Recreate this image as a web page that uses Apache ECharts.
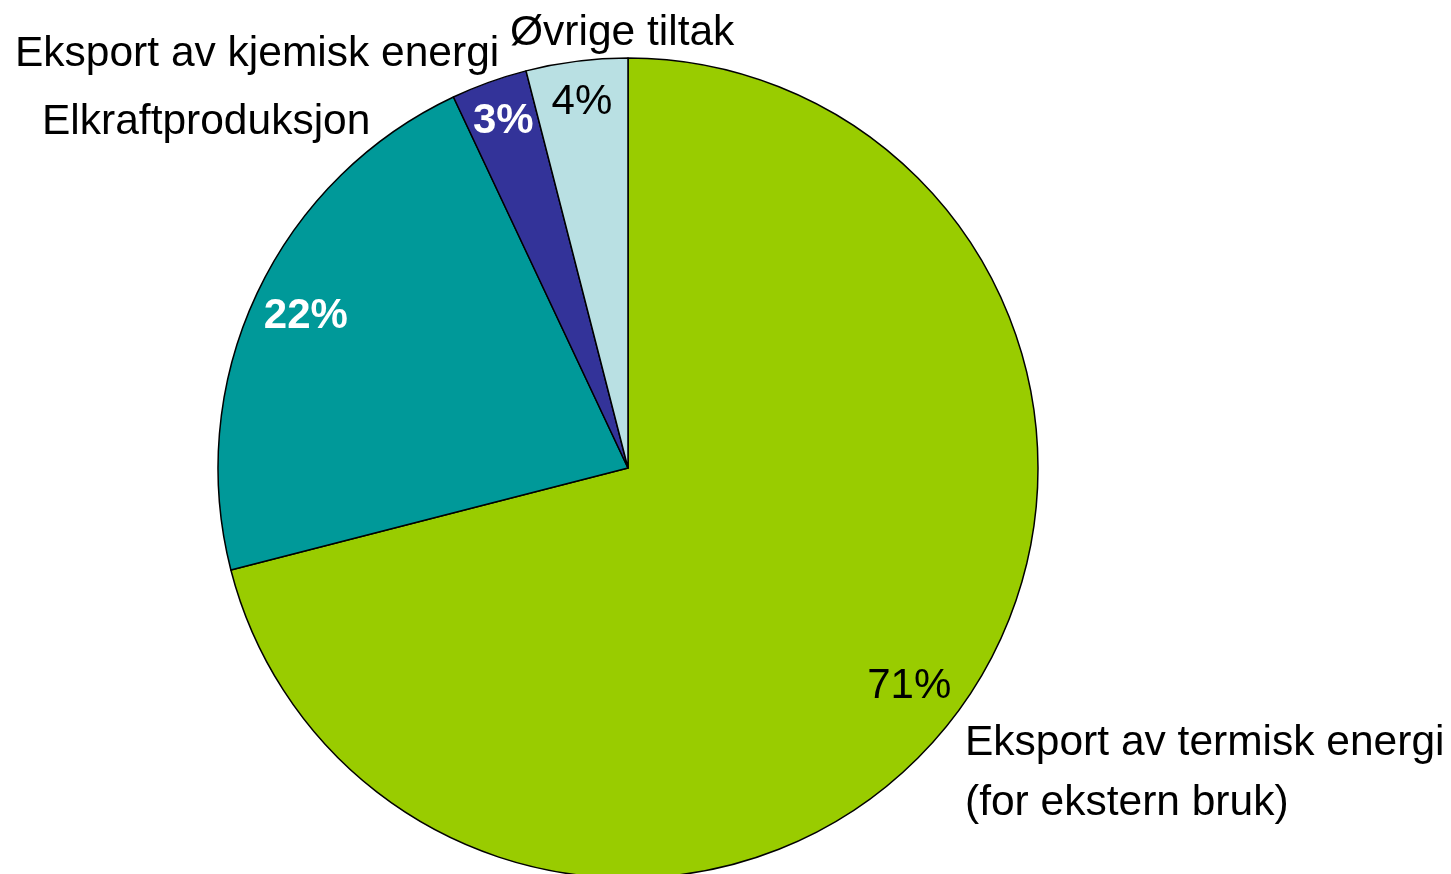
<!DOCTYPE html>
<html>
<head>
<meta charset="utf-8">
<script src="https://cdn.jsdelivr.net/npm/echarts@6/dist/echarts.min.js"></script>
<style>
  html, body { margin: 0; padding: 0; background: #ffffff; }
  #chart { width: 1451px; height: 874px; }
</style>
</head>
<body>
<div id="chart"></div>
<script>
// Share of energy use by measure (percent)
const categories = [
  'Eksport av termisk energi (for ekstern bruk)',
  'Elkraftproduksjon',
  'Eksport av kjemisk energi',
  'Øvrige tiltak'
];
const values = [71, 22, 3, 4];
const sliceColors = ['#99CC00', '#009999', '#333399', '#B9E0E3'];
const valueLabelColors = ['#000000', '#ffffff', '#ffffff', '#000000'];
const valueLabelWeights = ['normal', 'bold', 'bold', 'normal'];
// large slices carry their label a bit further in than the thin ones
const labelRing = ['large', 'large', 'thin', 'thin'];

const FONT = '"Liberation Sans", Arial, sans-serif';
const CENTER = [628, 468];
const R = 410;

const pieData = categories.map((name, i) => ({
  name,
  value: values[i],
  itemStyle: { color: sliceColors[i] }
}));

// transparent rings whose mid radius carries the percentage labels
function labelData(ring) {
  return categories.map((name, i) => ({
    name,
    value: values[i],
    label: {
      show: labelRing[i] === ring,
      color: valueLabelColors[i],
      fontWeight: valueLabelWeights[i]
    }
  }));
}

function labelSeries(ring, inner) {
  return {
    type: 'pie',
    center: CENTER,
    radius: [inner, R],
    startAngle: 90,
    clockwise: true,
    data: labelData(ring),
    itemStyle: { color: 'rgba(0,0,0,0)', borderWidth: 0 },
    label: {
      position: 'inside',
      formatter: '{d}%',
      fontSize: 42,
      fontFamily: FONT
    },
    labelLine: { show: false },
    emphasis: { disabled: true },
    silent: true
  };
}

function nameText(text, x, y) {
  return {
    type: 'text',
    left: x,
    top: y,
    style: {
      text,
      font: '42.5px ' + FONT,
      fill: '#000000',
      lineHeight: 60
    }
  };
}

const chart = echarts.init(document.getElementById('chart'), null, { renderer: 'canvas' });
chart.setOption({
  backgroundColor: '#ffffff',
  animation: false,
  series: [
    {
      type: 'pie',
      center: CENTER,
      radius: [0, R],
      startAngle: 90,
      clockwise: true,
      data: pieData,
      label: { show: false },
      labelLine: { show: false },
      itemStyle: { borderColor: '#000000', borderWidth: 1.5 },
      emphasis: { disabled: true },
      silent: true
    },
    labelSeries('large', 296),
    labelSeries('thin', 320)
  ],
  graphic: [
    nameText('Øvrige tiltak', 510, 3),
    nameText('Eksport av kjemisk energi', 15, 24),
    nameText('Elkraftproduksjon', 42, 92),
    nameText('Eksport av termisk energi\n(for ekstern bruk)', 965, 713)
  ]
});
</script>
</body>
</html>
